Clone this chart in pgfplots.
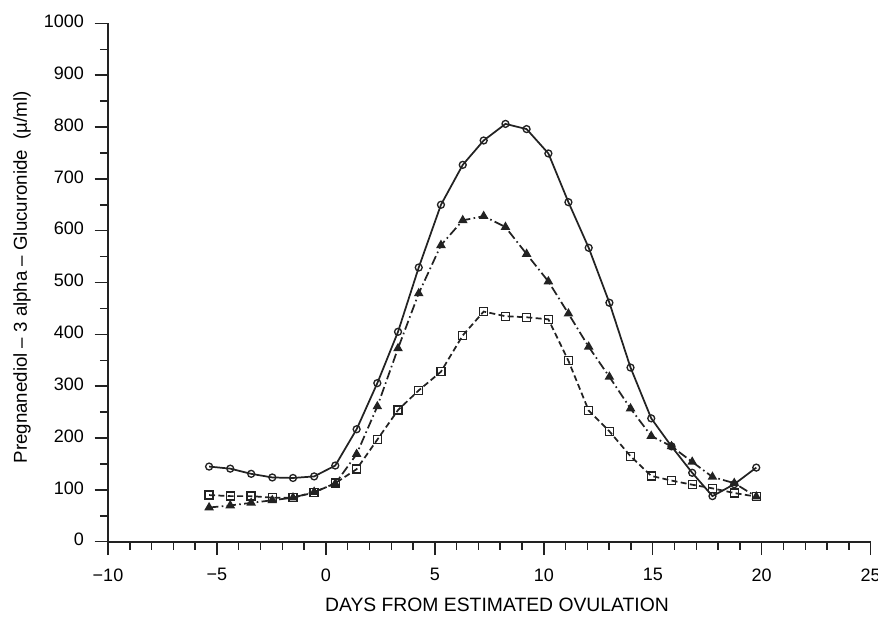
\documentclass[border=0pt]{standalone}
\usepackage{fontspec}
\setmainfont{Liberation Sans}
\usepackage{pgfplots}
\pgfplotsset{compat=1.18}

\definecolor{ink}{HTML}{222222}

\begin{document}
\begin{tikzpicture}
  \begin{axis}[
    at={(0,0)}, anchor=south west,
    scale only axis,
    width=572pt, height=388.8pt,
    xmin=-10, xmax=25, ymin=0, ymax=1000,
    axis lines*=left,
    axis line style={ink, line width=1.2pt},
    xtick={-10,-5,...,25}, ytick={0,100,...,1000},
    xticklabels={−10,−5,0,5,10,15,20,25},
    minor x tick num=4, minor y tick num=1,
    tick align=outside,
    major tick length=10pt, minor tick length=6pt,
    tick style={ink, line width=1.1pt},
    /pgf/number format/assume math mode=true,
    /pgf/number format/1000 sep={},
    ticklabel style={font=\fontsize{13.5}{15}\selectfont},
    yticklabel style={xshift=-4.5pt, yshift=1.5pt},
    xticklabel style={yshift=-6.5pt},
    xlabel={DAYS FROM ESTIMATED OVULATION},
    ylabel={Pregnanediol -- 3 alpha -- Glucuronide\ \ (µ/ml)},
    xlabel style={font=\fontsize{14.5}{16}\selectfont,
      at={(rel axis cs:0.51,0)}, anchor=center, yshift=-47.5pt},
    ylabel style={font=\fontsize{14}{16}\selectfont,
      at={(rel axis cs:0,0.51)}, anchor=center, yshift=64.5pt},
    clip=false,
  ]
    % circles, solid
    \addplot[ink, line width=1.3pt, mark=o, mark size=2.6pt,
      mark options={solid, fill=white, line width=1pt}] coordinates {
      (-5.36,145) (-4.39,141) (-3.43,131) (-2.46,124) (-1.51,123) (-0.54,126)
      (0.43,147) (1.41,217) (2.36,306) (3.31,405) (4.26,529) (5.28,650)
      (6.28,727) (7.24,774) (8.24,806) (9.21,796) (10.21,749) (11.13,655)
      (12.06,567) (13.01,461) (13.98,336) (14.93,238) (15.86,184) (16.81,133)
      (17.74,88) (18.74,111) (19.75,143)
    };
    % triangles, dash dot
    \addplot[ink, line width=1.3pt, dash pattern=on 7pt off 2.5pt on 1.2pt off 2.5pt,
      mark=triangle*, mark size=2.9pt,
      mark options={solid, fill=ink}] coordinates {
      (-5.36,66) (-4.39,70) (-3.43,75) (-2.46,80) (-1.51,85) (-0.54,96)
      (0.43,112) (1.41,169) (2.36,261) (3.31,373) (4.26,479) (5.28,572)
      (6.28,620) (7.24,628) (8.24,607) (9.21,555) (10.21,502) (11.13,440)
      (12.06,376) (13.01,318) (13.98,257) (14.93,204) (15.86,184) (16.81,154)
      (17.74,125) (18.74,113) (19.75,87)
    };
    % squares, dashed
    \addplot[ink, line width=1.3pt, dash pattern=on 4.5pt off 2.5pt,
      mark=square, mark size=3pt,
      mark options={solid, fill=white, line width=1pt}] coordinates {
      (-5.36,90) (-4.39,88) (-3.43,88) (-2.46,85) (-1.51,85) (-0.54,95)
      (0.43,113) (1.41,140) (2.36,197) (3.31,254) (4.26,292) (5.28,328)
      (6.28,398) (7.24,444) (8.24,435) (9.21,433) (10.21,429) (11.13,349)
      (12.06,253) (13.01,213) (13.98,165) (14.93,127) (15.86,118) (16.81,110)
      (17.74,103) (18.74,94) (19.75,87)
    };
  \end{axis}
  \pgfresetboundingbox
  \path[use as bounding box] (-81pt,-60.2pt) rectangle (577.5pt,406.3pt);
\end{tikzpicture}
\end{document}
